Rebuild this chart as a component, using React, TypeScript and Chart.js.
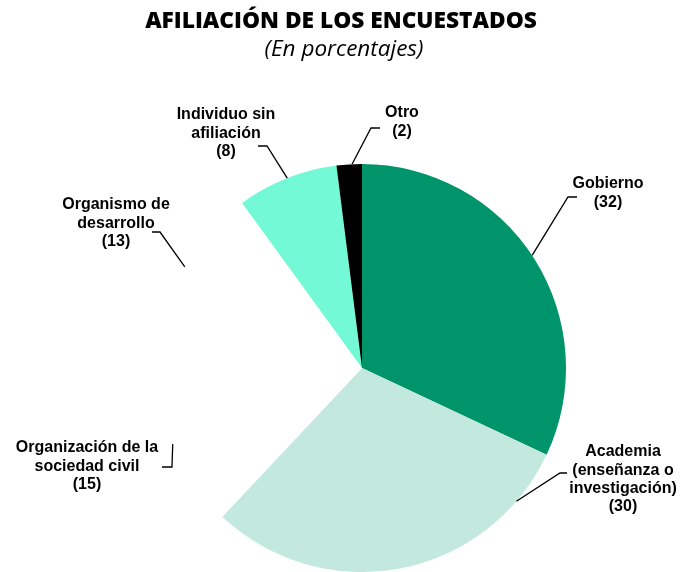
import React, { useEffect, useRef } from "react";
import { Chart, registerables } from "chart.js";

Chart.register(...registerables);

const titleText = "AFILIACIÓN DE LOS ENCUESTADOS";
const subtitleText = "(En porcentajes)";

const categories = [
  "Gobierno",
  "Academia (enseñanza o investigación)",
  "Organización de la sociedad civil",
  "Organismo de desarrollo",
  "Individuo sin afiliación",
  "Otro",
];
const values = [32, 30, 15, 13, 8, 2];
const labelLines = [
  ["Gobierno"],
  ["Academia", "(enseñanza o", "investigación)"],
  ["Organización de la", "sociedad civil"],
  ["Organismo de", "desarrollo"],
  ["Individuo sin", "afiliación"],
  ["Otro"],
];
const colors = ["#00946B", "#C3E9DF", "#FFFFFF", "#FFFFFF", "#73F9D5", "#000000"];

// Label layout (annotation positions): anchor angle on the pie rim (deg, clockwise from top),
// elbow point, end point, label centre x and first line y.
const labelLayout = [
  { angle: 56.5, elbow: [568, 197], end: [577, 197], x: 608, y: 184 },
  { angle: 130.8, elbow: [560, 473], end: [567, 473], x: 623, y: 452 },
  { angle: 248.1, elbow: [172, 467], end: [162, 467], x: 87, y: 448 },
  { angle: 299.7, elbow: [160, 232], end: [152, 232], x: 116, y: 205 },
  { angle: 338.5, elbow: [267, 146], end: [258, 146], x: 226, y: 115 },
  { angle: 357.2, elbow: [371, 128], end: [380, 128], x: 402, y: 113 },
];

const annotationPlugin = {
  id: "annotations",
  afterDraw(chart: any) {
    const ctx = chart.ctx as CanvasRenderingContext2D;
    const meta = chart.getDatasetMeta(0);
    const arc0 = meta.data[0] as any;
    const cx = arc0.x;
    const cy = arc0.y;
    const r = arc0.outerRadius;
    ctx.save();

    // Title
    ctx.fillStyle = "#000";
    ctx.textAlign = "center";
    ctx.textBaseline = "middle";
    let size = 22;
    ctx.font = `800 ${size}px "Open Sans"`;
    const w = ctx.measureText(titleText).width;
    size = (size * 392) / w;
    ctx.font = `800 ${size}px "Open Sans"`;
    ctx.fillText(titleText, 341, 22);

    let ss = 19;
    ctx.font = `italic ${ss}px "Open Sans"`;
    const sw = ctx.measureText(subtitleText).width;
    ss = (ss * 159) / sw;
    ctx.font = `italic ${ss}px "Open Sans"`;
    ctx.fillText(subtitleText, 344, 50);

    // Leader lines
    ctx.strokeStyle = "#000";
    ctx.lineWidth = 1.3;
    labelLayout.forEach((l) => {
      const a = (l.angle * Math.PI) / 180;
      const sx = cx + r * Math.sin(a);
      const sy = cy - r * Math.cos(a);
      ctx.beginPath();
      ctx.moveTo(sx, sy);
      ctx.lineTo(l.elbow[0], l.elbow[1]);
      ctx.lineTo(l.end[0], l.end[1]);
      ctx.stroke();
    });

    // Labels
    ctx.font = 'bold 16px "Liberation Sans", Arial, sans-serif';
    const lh = 18.3;
    labelLayout.forEach((l, i) => {
      const lines = [...labelLines[i], `(${values[i]})`];
      lines.forEach((t, j) => {
        ctx.fillText(t, l.x, l.y + j * lh);
      });
    });
    ctx.restore();
  },
};

export default function App() {
  const ref = useRef<HTMLCanvasElement | null>(null);
  useEffect(() => {
    document.body.style.margin = "0";
    if (!ref.current) return;
    const chart = new Chart(ref.current, {
      type: "pie",
      data: {
        labels: categories,
        datasets: [
          {
            data: values,
            backgroundColor: colors,
            borderWidth: 0,
            hoverOffset: 0,
          },
        ],
      },
      options: {
        responsive: false,
        animation: false,
        events: [],
        layout: { padding: { left: 142, right: 100, top: 164, bottom: 0 } },
        plugins: {
          legend: { display: false },
          tooltip: { enabled: false },
          title: { display: false },
        },
      },
      plugins: [annotationPlugin],
    });
    return () => chart.destroy();
  }, []);
  return (
    <div style={{ width: 682, height: 572, background: "#fff" }}>
      <canvas ref={ref} width={682} height={572} style={{ display: "block" }} />
    </div>
  );
}
